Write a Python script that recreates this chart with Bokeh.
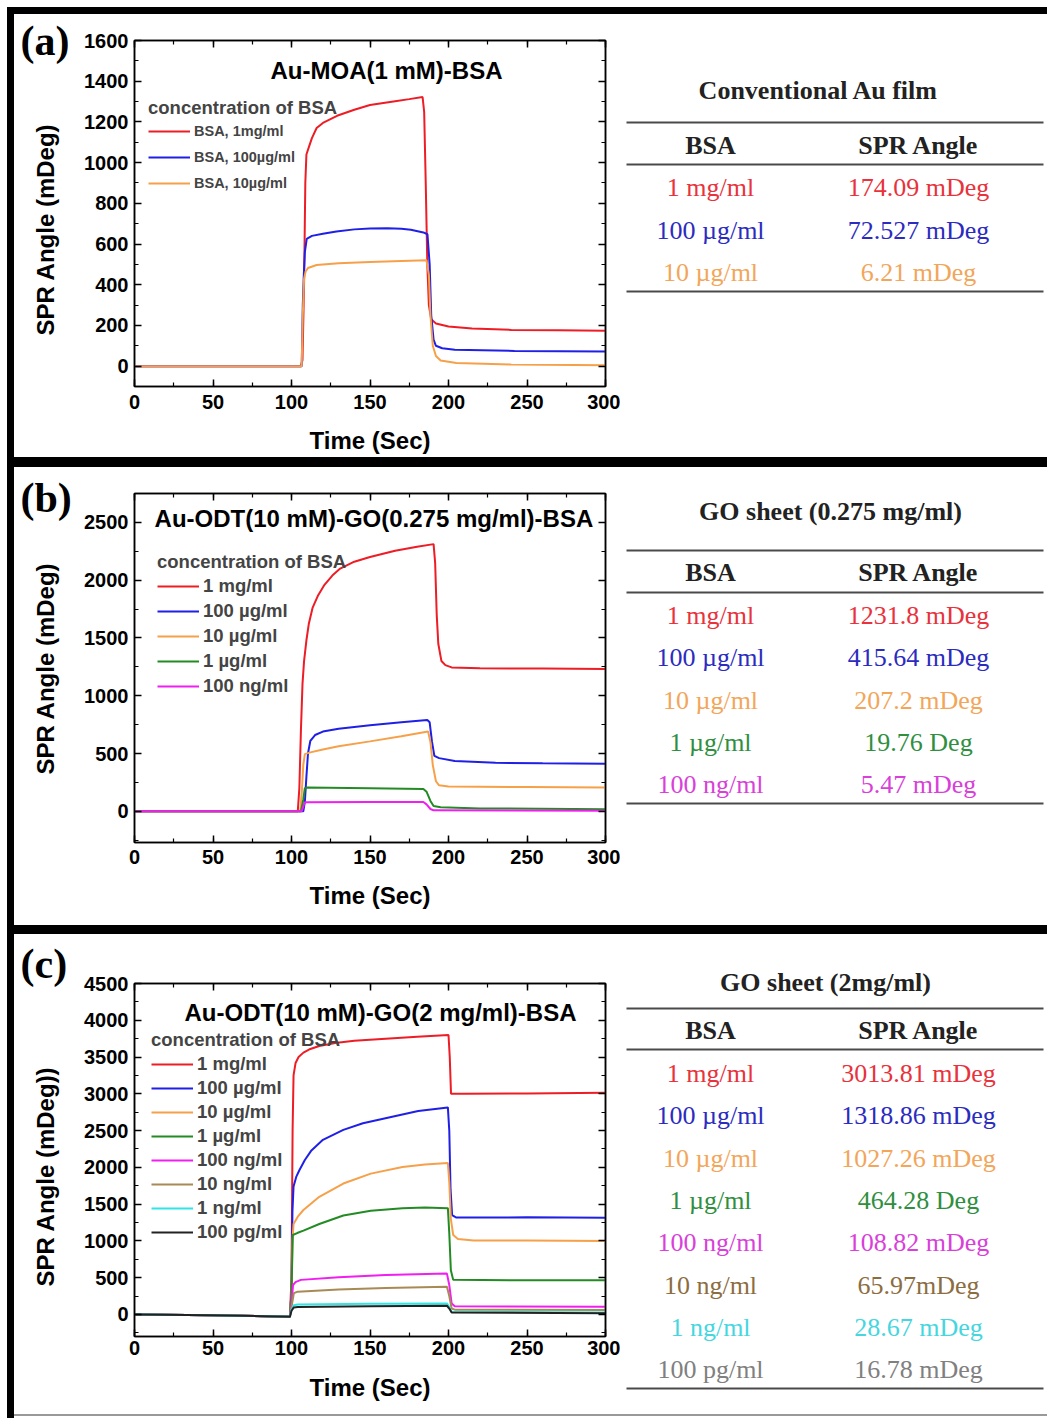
import math
from bokeh.plotting import figure
from bokeh.models import (Range1d, LinearAxis, SingleIntervalTicker, Legend, LegendItem,
                          Label, Spacer, CustomJSTickFormatter)
from bokeh.layouts import row, column
from bokeh.core.properties import value
from bokeh.embed import file_html
from bokeh.resources import INLINE

# ------------------------------------------------------------------ data
# Panel (a)  Au-MOA(1 mM)-BSA
a_labels = ["BSA, 1mg/ml", "BSA, 100µg/ml", "BSA, 10µg/ml"]
a_red_t = [0, 60, 106, 107, 108, 108.8, 109.5, 111, 113, 116, 120, 129, 140, 150, 166, 175, 183.5, 184.5, 185.5, 186.5, 187.5, 189, 192, 200, 215, 240, 270, 300]
a_red_v = [0, 0, 0, 30, 400, 900, 1040, 1075, 1120, 1170, 1195, 1230, 1260, 1283, 1302, 1312, 1322, 1250, 900, 500, 300, 230, 210, 195, 185, 178, 176, 174]
a_blue_t = [0, 60, 106.5, 107.2, 107.8, 108.5, 109.7, 113, 120, 128.6, 140, 150, 161, 170, 176, 184, 186.6, 188, 189, 190.5, 192, 196, 204, 242, 300]
a_blue_v = [0, 0, 0, 300, 440, 560, 625, 640, 650, 662, 672, 676, 678, 675, 670, 657, 648, 500, 250, 130, 100, 88, 80, 75, 72]
a_orange_t = [0, 60, 106.5, 107.2, 108, 109, 110.5, 116, 130, 150, 170, 186, 187.5, 188.5, 190, 192, 195, 205, 240, 300]
a_orange_v = [0, 0, 0, 250, 430, 465, 482, 497, 506, 512, 517, 520, 450, 250, 100, 50, 28, 15, 8, 5]

# Panel (b)  Au-ODT(10 mM)-GO(0.275 mg/ml)-BSA
b_labels = ["1 mg/ml", "100 µg/ml", "10 µg/ml", "1 µg/ml", "100 ng/ml"]
b_red_t = [0, 60, 104, 105, 106, 107, 108, 109.5, 111, 113.4, 117, 121, 126, 131, 140, 150, 166, 180, 190.5, 191.5, 192.5, 193.5, 195.5, 198, 202, 220, 260, 300]
b_red_v = [0, 0, 0, 200, 700, 1100, 1300, 1480, 1620, 1760, 1870, 1960, 2040, 2100, 2160, 2200, 2255, 2290, 2312, 2150, 1700, 1450, 1300, 1265, 1245, 1238, 1235, 1232]
b_blue_t = [0, 60, 107.5, 108.5, 109.5, 110.5, 112, 115, 120, 130, 150, 170, 186.5, 188, 189.5, 191, 194, 204, 230, 260, 300]
b_blue_v = [0, 0, 0, 80, 300, 500, 610, 660, 690, 715, 745, 770, 790, 770, 600, 480, 460, 435, 420, 415, 412]
b_orange_t = [0, 60, 105.5, 106.5, 107.5, 108.5, 112, 120, 130, 150, 170, 187, 188.5, 190, 192, 194, 200, 250, 300]
b_orange_v = [0, 0, 0, 150, 400, 495, 510, 535, 562, 605, 650, 690, 600, 400, 260, 225, 215, 210, 207]
b_green_t = [0, 60, 106, 107.5, 108.5, 110, 150, 184, 186, 188.5, 190.5, 195, 220, 300]
b_green_v = [0, 0, 0, 100, 200, 205, 200, 193, 170, 90, 45, 35, 25, 18]
b_magenta_t = [0, 60, 106.5, 107.5, 108.5, 150, 184, 186, 188.5, 190.5, 300]
b_magenta_v = [0, 0, 0, 40, 78, 80, 80, 60, 20, 8, 5]

# Panel (c)  Au-ODT(10 mM)-GO(2 mg/ml)-BSA
c_labels = ["1 mg/ml", "100 µg/ml", "10 µg/ml", "1 µg/ml", "100 ng/ml", "10 ng/ml", "1 ng/ml", "100 pg/ml"]
c_red_t = [0, 50, 99, 100, 100.7, 101.3, 102.6, 104.5, 107.6, 112, 117.7, 127.8, 140, 160, 180, 200, 200.8, 201.6, 210, 250, 300]
c_red_v = [0, -10, -30, 500, 2500, 3250, 3420, 3500, 3560, 3610, 3650, 3690, 3720, 3750, 3775, 3800, 3500, 3000, 3000, 3005, 3013]
c_blue_t = [0, 50, 99, 100, 100.6, 101.3, 103, 105, 108.5, 112.7, 120, 133, 145.5, 165.6, 180.7, 199.6, 200.5, 201.3, 202.3, 205, 250, 300]
c_blue_v = [0, -10, -30, 300, 1400, 1740, 1870, 1960, 2100, 2230, 2375, 2510, 2600, 2695, 2765, 2815, 2500, 1700, 1350, 1318, 1320, 1315]
c_orange_t = [0, 50, 99, 100, 100.6, 101.3, 104, 107.6, 117.7, 133, 150.5, 170.7, 185, 199.6, 200.5, 201.5, 203, 206, 216, 250, 300]
c_orange_v = [0, -10, -30, 300, 1000, 1230, 1330, 1420, 1600, 1780, 1915, 2005, 2040, 2060, 1800, 1300, 1080, 1025, 1005, 1005, 1000]
c_green_t = [0, 50, 99, 100, 100.8, 104, 107.6, 117.7, 133, 150.5, 170.7, 185, 199.6, 200.5, 201.5, 203, 250, 300]
c_green_v = [0, -10, -30, 300, 1080, 1110, 1140, 1230, 1345, 1410, 1445, 1455, 1445, 1100, 600, 470, 465, 464]
c_magenta_t = [0, 50, 99, 100, 101, 102.5, 106, 130, 160, 199, 200.5, 202, 204, 300]
c_magenta_v = [0, -10, -30, 150, 400, 440, 470, 505, 535, 555, 400, 150, 110, 105]
c_brown_t = [0, 50, 99, 100, 101.5, 104, 130, 160, 199, 200.5, 202, 204, 300]
c_brown_v = [0, -10, -30, 100, 290, 310, 340, 360, 375, 250, 80, 65, 62]
c_cyan_t = [0, 50, 99, 100, 101.5, 104, 150, 199, 200.5, 202, 300]
c_cyan_v = [0, -10, -30, 60, 125, 135, 145, 150, 100, 35, 28]
c_black_t = [0, 50, 99, 100, 101.5, 104, 150, 199, 200.5, 202, 300]
c_black_v = [0, -10, -30, 50, 95, 100, 110, 118, 80, 25, 17]

# Tables
ta_title = "Conventional Au film"
ta_bsa = ["1 mg/ml", "100 µg/ml", "10 µg/ml"]
ta_spr = ["174.09 mDeg", "72.527 mDeg", "6.21 mDeg"]
tb_title = "GO sheet (0.275 mg/ml)"
tb_bsa = ["1 mg/ml", "100 µg/ml", "10 µg/ml", "1 µg/ml", "100 ng/ml"]
tb_spr = ["1231.8 mDeg", "415.64 mDeg", "207.2 mDeg", "19.76 Deg", "5.47 mDeg"]
tc_title = "GO sheet (2mg/ml)"
tc_bsa = ["1 mg/ml", "100 µg/ml", "10 µg/ml", "1 µg/ml", "100 ng/ml", "10 ng/ml", "1 ng/ml", "100 pg/ml"]
tc_spr = ["3013.81 mDeg", "1318.86 mDeg", "1027.26 mDeg", "464.28 Deg", "108.82 mDeg", "65.97mDeg", "28.67 mDeg", "16.78 mDeg"]

# ------------------------------------------------------------------ styles
LINE_COLORS = ["#ee1c25", "#1f1fe6", "#f7a04a", "#238b23", "#f01ef0", "#a88a55", "#2ee6e6", "#222222"]
TEXT_COLORS = ["#e8323c", "#2b2bbf", "#f2a65a", "#2f8f3f", "#d93fd9", "#8c6d3f", "#45d6e0", "#808080"]
SANS = "Liberation Sans"
SERIF = "Liberation Serif"
BLANK = CustomJSTickFormatter(code="return ''")


def no_align(p):
    if "frame_align" in p.properties():
        p.frame_align = False


def style_axis(ax, blank=False):
    ax.axis_line_color = "black"
    ax.axis_line_width = 1.5
    ax.major_tick_in = 7
    ax.major_tick_out = 0
    ax.minor_tick_in = 4
    ax.minor_tick_out = 0
    ax.major_tick_line_width = 1.5
    ax.minor_tick_line_width = 1.2
    ax.major_tick_line_color = "black"
    ax.minor_tick_line_color = "black"
    if blank:
        ax.formatter = BLANK
        ax.major_label_text_font_size = "0px"
        ax.major_label_standoff = 0
    else:
        ax.major_label_text_font = SANS
        ax.major_label_text_font_size = "20px"
        ax.major_label_text_font_style = "bold"
        ax.major_label_text_color = "black"
        ax.axis_label_text_font = SANS
        ax.axis_label_text_font_size = "24px"
        ax.axis_label_text_font_style = "bold"
        ax.axis_label_text_color = "black"


def blank_fig(width, height):
    p = figure(width=width, height=height, x_range=Range1d(0, width), y_range=Range1d(height, 0),
               output_backend="svg", toolbar_location=None, min_border=0,
               min_border_left=0, min_border_right=0, min_border_top=0, min_border_bottom=0,
               x_axis_type=None, y_axis_type=None)
    no_align(p)
    p.outline_line_color = None
    p.xgrid.visible = False
    p.ygrid.visible = False
    return p


def build_side(height, panel, panel_y, ylabel, ylabel_y):
    # left strip: panel letter and the vertical y-axis title
    p = blank_fig(66, height)
    p.text(x=[6], y=[panel_y], text=["(" + panel + ")"], text_font=value(SERIF),
           text_font_size="42px", text_font_style="bold", text_color="black",
           text_align="left", text_baseline="middle")
    p.text(x=[31], y=[ylabel_y], text=[ylabel], angle=math.pi / 2, text_font=value(SANS),
           text_font_size="24px", text_font_style="bold", text_color="black",
           text_align="center", text_baseline="middle")
    return p


def build_plot(height, top, bottom, yr, ystep, title, title_xy, curves, labels,
               leg_loc, leg_font, leg_spacing, leg_standoff, x_standoff, xl_standoff):
    p = figure(width=540, height=height, x_range=Range1d(0, 300), y_range=Range1d(*yr),
               output_backend="svg", toolbar_location=None,
               min_border_left=54, min_border_right=15, min_border_top=top,
               min_border_bottom=bottom)
    no_align(p)
    p.outline_line_color = "black"
    p.outline_line_width = 1.5
    p.xgrid.visible = False
    p.ygrid.visible = False
    p.xaxis.ticker = SingleIntervalTicker(interval=50, num_minor_ticks=2)
    p.yaxis.ticker = SingleIntervalTicker(interval=ystep, num_minor_ticks=2)
    p.xaxis.axis_label = "Time (Sec)"
    style_axis(p.xaxis[0])
    style_axis(p.yaxis[0])
    p.xaxis.major_label_standoff = x_standoff
    p.xaxis.axis_label_standoff = xl_standoff
    p.yaxis.major_label_standoff = 6
    top_ax = LinearAxis(ticker=SingleIntervalTicker(interval=50, num_minor_ticks=2))
    right_ax = LinearAxis(ticker=SingleIntervalTicker(interval=ystep, num_minor_ticks=2))
    style_axis(top_ax, blank=True)
    style_axis(right_ax, blank=True)
    p.add_layout(top_ax, "above")
    p.add_layout(right_ax, "right")

    rs = []
    for (t, v), c in zip(curves, LINE_COLORS):
        rs.append(p.line(t, v, line_color=c, line_width=2))
    items = [LegendItem(label=value(lab), renderers=[r]) for lab, r in zip(labels, rs)]
    leg = Legend(items=items, location=leg_loc, title="concentration of BSA",
                 title_text_font=SANS, title_text_font_size="18.5px", title_text_font_style="bold",
                 title_standoff=leg_standoff,
                 label_text_font=SANS, label_text_font_size=leg_font, label_text_font_style="bold",
                 glyph_width=42, glyph_height=20, label_height=20, label_standoff=4,
                 spacing=leg_spacing, padding=0, margin=0,
                 border_line_color=None, background_fill_alpha=0)
    p.add_layout(leg, "center")
    p.add_layout(Label(x=title_xy[0], y=title_xy[1], text=title, text_align="center",
                       text_baseline="middle", text_font=SANS, text_font_size="24px",
                       text_font_style="bold", text_color="black"))
    return p


def build_table(height, title, title_xy, line_ys, header_y, first_y, pitch, bsa, spr):
    w = 427
    p = blank_fig(w, height)
    c1, c2 = 90, 298
    p.segment(x0=[6] * len(line_ys), y0=line_ys, x1=[423] * len(line_ys), y1=line_ys,
              line_color="#4a4a4a", line_width=2)
    p.text(x=[title_xy[0], c1, c2], y=[title_xy[1], header_y, header_y],
           text=[title, "BSA", "SPR Angle"], text_color="#222222",
           text_font=value(SERIF), text_font_size="26px", text_font_style="bold",
           text_align="center", text_baseline="middle")
    ys = [first_y + pitch * i for i in range(len(bsa))]
    cols = TEXT_COLORS[:len(bsa)]
    p.text(x=[c1] * len(bsa), y=ys, text=bsa, text_color=cols, text_font=value(SERIF),
           text_font_size="26px", text_align="center", text_baseline="middle")
    p.text(x=[c2] * len(spr), y=ys, text=spr, text_color=cols, text_font=value(SERIF),
           text_font_size="26px", text_align="center", text_baseline="middle")
    return p


sa = build_side(443, "a", 26, "SPR Angle (mDeg)", 215)
sb = build_side(458, "b", 30, "SPR Angle (mDeg)", 201)
sc = build_side(480, "c", 29, "SPR Angle (mDeg))", 242)

pa = build_plot(443, 26, 71, (-100, 1600), 200, "Au-MOA(1 mM)-BSA", (160.5, 1453),
                [(a_red_t, a_red_v), (a_blue_t, a_blue_v), (a_orange_t, a_orange_v)], a_labels,
                (14, 193), "14.5px", 6, 2, 8, 15)
pb = build_plot(458, 26, 83, (-270, 2750), 500, "Au-ODT(10 mM)-GO(0.275 mg/ml)-BSA",
                (152.5, 2534),
                [(b_red_t, b_red_v), (b_blue_t, b_blue_v), (b_orange_t, b_orange_v),
                 (b_green_t, b_green_v), (b_magenta_t, b_magenta_v)], b_labels,
                (23, 145), "18.5px", 3, 2, 7, 15)
pc = build_plot(480, 49, 78, (-300, 4500), 500, "Au-ODT(10 mM)-GO(2 mg/ml)-BSA",
                (156.7, 4106),
                [(c_red_t, c_red_v), (c_blue_t, c_blue_v), (c_orange_t, c_orange_v),
                 (c_green_t, c_green_v), (c_magenta_t, c_magenta_v), (c_brown_t, c_brown_v),
                 (c_cyan_t, c_cyan_v), (c_black_t, c_black_v)], c_labels,
                (17, 93), "18.5px", 2, 2, 4, 16)

ta = build_table(443, ta_title, (198, 76), [108, 150, 277], 131, 173, 42.5, ta_bsa, ta_spr)
tb = build_table(458, tb_title, (210, 44), [83, 125, 336], 105, 148, 42.25, tb_bsa, tb_spr)
tc = build_table(480, tc_title, (205, 48), [74, 115, 454], 96, 139, 42.3, tc_bsa, tc_spr)

BLACK = {"background-color": "black"}
root = column(
    Spacer(width=1047, height=7),
    row(
        Spacer(width=7, height=1411),
        Spacer(width=7, height=1411, styles=BLACK),
        column(
            Spacer(width=1033, height=7, styles=BLACK),
            row(sa, pa, ta),
            Spacer(width=1033, height=10, styles=BLACK),
            row(sb, pb, tb),
            Spacer(width=1033, height=9, styles=BLACK),
            row(sc, pc, tc),
            Spacer(width=1033, height=2, styles={"background-color": "#999999"}),
            Spacer(width=1033, height=2),
        ),
    ),
)

open("out.html", "w").write(file_html(root, INLINE))
